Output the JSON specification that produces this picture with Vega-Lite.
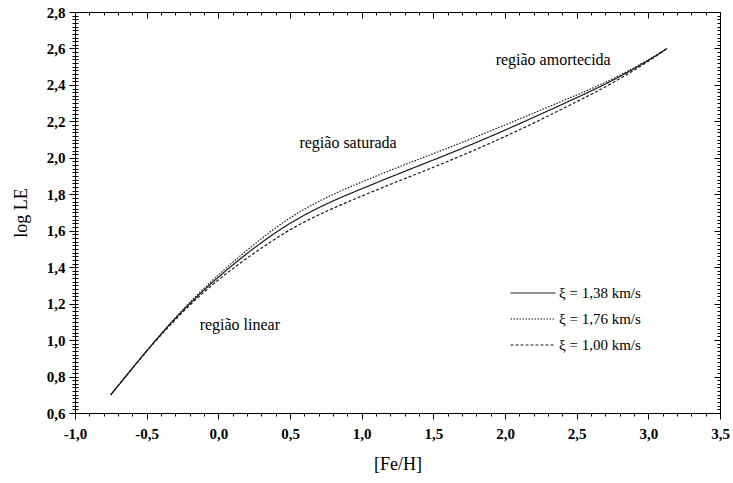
{
  "$schema": "https://vega.github.io/schema/vega-lite/v6.json",
  "width": 645,
  "height": 401,
  "autosize": {"type": "none"},
  "padding": {"left": 75, "top": 12, "right": 13, "bottom": 70},
  "config": {
    "font": "Liberation Serif",
    "view": {"stroke": "black", "strokeWidth": 1},
    "axis": {
      "grid": false,
      "domain": false,
      "tickColor": "black",
      "tickWidth": 1,
      "labelColor": "black",
      "titleColor": "black",
      "labelFont": "Liberation Serif",
      "titleFont": "Liberation Serif"
    }
  },
  "datasets": {
    "curves": [
      {"feh": -0.75, "logle": 0.70, "xi": "ξ = 1,38 km/s"},
      {"feh": -0.5, "logle": 0.94, "xi": "ξ = 1,38 km/s"},
      {"feh": -0.25, "logle": 1.16, "xi": "ξ = 1,38 km/s"},
      {"feh": 0.0, "logle": 1.345, "xi": "ξ = 1,38 km/s"},
      {"feh": 0.25, "logle": 1.505, "xi": "ξ = 1,38 km/s"},
      {"feh": 0.5, "logle": 1.64, "xi": "ξ = 1,38 km/s"},
      {"feh": 0.75, "logle": 1.745, "xi": "ξ = 1,38 km/s"},
      {"feh": 1.0, "logle": 1.83, "xi": "ξ = 1,38 km/s"},
      {"feh": 1.25, "logle": 1.91, "xi": "ξ = 1,38 km/s"},
      {"feh": 1.5, "logle": 1.988, "xi": "ξ = 1,38 km/s"},
      {"feh": 1.75, "logle": 2.068, "xi": "ξ = 1,38 km/s"},
      {"feh": 2.0, "logle": 2.152, "xi": "ξ = 1,38 km/s"},
      {"feh": 2.25, "logle": 2.24, "xi": "ξ = 1,38 km/s"},
      {"feh": 2.5, "logle": 2.33, "xi": "ξ = 1,38 km/s"},
      {"feh": 2.75, "logle": 2.425, "xi": "ξ = 1,38 km/s"},
      {"feh": 3.0, "logle": 2.535, "xi": "ξ = 1,38 km/s"},
      {"feh": 3.13, "logle": 2.6, "xi": "ξ = 1,38 km/s"},

      {"feh": -0.75, "logle": 0.70, "xi": "ξ = 1,76 km/s"},
      {"feh": -0.5, "logle": 0.941, "xi": "ξ = 1,76 km/s"},
      {"feh": -0.25, "logle": 1.165, "xi": "ξ = 1,76 km/s"},
      {"feh": 0.0, "logle": 1.357, "xi": "ξ = 1,76 km/s"},
      {"feh": 0.25, "logle": 1.525, "xi": "ξ = 1,76 km/s"},
      {"feh": 0.5, "logle": 1.67, "xi": "ξ = 1,76 km/s"},
      {"feh": 0.75, "logle": 1.78, "xi": "ξ = 1,76 km/s"},
      {"feh": 1.0, "logle": 1.867, "xi": "ξ = 1,76 km/s"},
      {"feh": 1.25, "logle": 1.947, "xi": "ξ = 1,76 km/s"},
      {"feh": 1.5, "logle": 2.023, "xi": "ξ = 1,76 km/s"},
      {"feh": 1.75, "logle": 2.1, "xi": "ξ = 1,76 km/s"},
      {"feh": 2.0, "logle": 2.18, "xi": "ξ = 1,76 km/s"},
      {"feh": 2.25, "logle": 2.262, "xi": "ξ = 1,76 km/s"},
      {"feh": 2.5, "logle": 2.345, "xi": "ξ = 1,76 km/s"},
      {"feh": 2.75, "logle": 2.433, "xi": "ξ = 1,76 km/s"},
      {"feh": 3.0, "logle": 2.538, "xi": "ξ = 1,76 km/s"},
      {"feh": 3.13, "logle": 2.6, "xi": "ξ = 1,76 km/s"},

      {"feh": -0.75, "logle": 0.70, "xi": "ξ = 1,00 km/s"},
      {"feh": -0.5, "logle": 0.938, "xi": "ξ = 1,00 km/s"},
      {"feh": -0.25, "logle": 1.152, "xi": "ξ = 1,00 km/s"},
      {"feh": 0.0, "logle": 1.33, "xi": "ξ = 1,00 km/s"},
      {"feh": 0.25, "logle": 1.477, "xi": "ξ = 1,00 km/s"},
      {"feh": 0.5, "logle": 1.605, "xi": "ξ = 1,00 km/s"},
      {"feh": 0.75, "logle": 1.705, "xi": "ξ = 1,00 km/s"},
      {"feh": 1.0, "logle": 1.79, "xi": "ξ = 1,00 km/s"},
      {"feh": 1.25, "logle": 1.87, "xi": "ξ = 1,00 km/s"},
      {"feh": 1.5, "logle": 1.948, "xi": "ξ = 1,00 km/s"},
      {"feh": 1.75, "logle": 2.03, "xi": "ξ = 1,00 km/s"},
      {"feh": 2.0, "logle": 2.117, "xi": "ξ = 1,00 km/s"},
      {"feh": 2.25, "logle": 2.21, "xi": "ξ = 1,00 km/s"},
      {"feh": 2.5, "logle": 2.308, "xi": "ξ = 1,00 km/s"},
      {"feh": 2.75, "logle": 2.411, "xi": "ξ = 1,00 km/s"},
      {"feh": 3.0, "logle": 2.53, "xi": "ξ = 1,00 km/s"},
      {"feh": 3.13, "logle": 2.6, "xi": "ξ = 1,00 km/s"}
    ],
    "regions": [
      {"feh": 0.15, "logle": 1.083, "label": "região linear"},
      {"feh": 0.905, "logle": 2.081, "label": "região saturada"},
      {"feh": 2.336, "logle": 2.536, "label": "região amortecida"}
    ]
  },
  "resolve": {
    "scale": {"x": "independent", "y": "independent"},
    "axis": {"x": "independent", "y": "independent"}
  },
  "layer": [
    {
      "data": {"name": "curves"},
      "mark": {"type": "line", "color": "#1a1a1a", "strokeWidth": 1.2, "interpolate": "natural"},
      "encoding": {
        "x": {
          "field": "feh", "type": "quantitative",
          "scale": {"domain": [-1, 3.5], "nice": false, "zero": false},
          "axis": {
            "orient": "bottom",
            "title": "[Fe/H]",
            "values": [-1, -0.5, 0, 0.5, 1, 1.5, 2, 2.5, 3, 3.5],
            "labelExpr": "replace(replace(format(datum.value, '.1f'), '.', ','), '−', '-')",
            "tickSize": 6,
            "labelPadding": 7,
            "labelFontSize": 15,
            "labelFontWeight": "bold",
            "labelFlush": false,
            "titleFontSize": 18,
            "titleFontWeight": "normal",
            "titlePadding": 14
          }
        },
        "y": {
          "field": "logle", "type": "quantitative",
          "scale": {"domain": [0.6, 2.8], "nice": false, "zero": false},
          "axis": {
            "orient": "left",
            "title": "log LE",
            "values": [0.6, 0.8, 1.0, 1.2, 1.4, 1.6, 1.8, 2.0, 2.2, 2.4, 2.6, 2.8],
            "labelExpr": "replace(format(datum.value, '.1f'), '.', ',')",
            "tickSize": 6,
            "labelPadding": 4,
            "labelFontSize": 15,
            "labelFontWeight": "bold",
            "labelFlush": false,
            "titleFontSize": 18,
            "titleFontWeight": "normal",
            "titlePadding": 16
          }
        },
        "strokeDash": {
          "field": "xi", "type": "nominal",
          "scale": {
            "domain": ["ξ = 1,38 km/s", "ξ = 1,76 km/s", "ξ = 1,00 km/s"],
            "range": [[1, 0], [1.5, 1.5], [3, 2]]
          },
          "legend": {
            "orient": "none",
            "legendX": 446,
            "legendY": 269,
            "title": null,
            "symbolType": "M-2,0H2",
            "symbolSize": 506,
            "symbolStrokeWidth": 1.2,
            "symbolStrokeColor": "#1a1a1a",
            "symbolFillColor": "transparent",
            "labelFont": "Liberation Serif",
            "labelFontSize": 15,
            "labelColor": "black",
            "labelOffset": 14,
            "rowPadding": 6
          }
        }
      }
    },
    {
      "data": {"name": "curves"},
      "mark": {"type": "point", "opacity": 0},
      "encoding": {
        "x": {
          "field": "feh", "type": "quantitative",
          "scale": {"domain": [-1, 3.5], "nice": false, "zero": false},
          "axis": {"orient": "bottom", "title": null, "labels": false, "tickCount": 45, "tickSize": 3}
        },
        "y": {
          "field": "logle", "type": "quantitative",
          "scale": {"domain": [0.6, 2.8], "nice": false, "zero": false},
          "axis": {"orient": "left", "title": null, "labels": false, "tickCount": 110, "tickSize": 3}
        }
      }
    },
    {
      "data": {"name": "curves"},
      "mark": {"type": "point", "opacity": 0},
      "encoding": {
        "x": {
          "field": "feh", "type": "quantitative",
          "scale": {"domain": [-1, 3.5], "nice": false, "zero": false},
          "axis": {"orient": "top", "title": null, "labels": false, "values": [-1, -0.5, 0, 0.5, 1, 1.5, 2, 2.5, 3, 3.5], "tickSize": -6}
        },
        "y": {
          "field": "logle", "type": "quantitative",
          "scale": {"domain": [0.6, 2.8], "nice": false, "zero": false},
          "axis": {"orient": "right", "title": null, "labels": false, "values": [0.6, 0.8, 1.0, 1.2, 1.4, 1.6, 1.8, 2.0, 2.2, 2.4, 2.6, 2.8], "tickSize": -6}
        }
      }
    },
    {
      "data": {"name": "curves"},
      "mark": {"type": "point", "opacity": 0},
      "encoding": {
        "x": {
          "field": "feh", "type": "quantitative",
          "scale": {"domain": [-1, 3.5], "nice": false, "zero": false},
          "axis": {"orient": "top", "title": null, "labels": false, "tickCount": 45, "tickSize": -3}
        },
        "y": {
          "field": "logle", "type": "quantitative",
          "scale": {"domain": [0.6, 2.8], "nice": false, "zero": false},
          "axis": {"orient": "right", "title": null, "labels": false, "tickCount": 110, "tickSize": -3}
        }
      }
    },
    {
      "data": {"name": "curves"},
      "mark": {"type": "point", "opacity": 0},
      "encoding": {
        "x": {
          "field": "feh", "type": "quantitative",
          "scale": {"domain": [-1, 3.5], "nice": false, "zero": false},
          "axis": null
        },
        "y": {
          "field": "logle", "type": "quantitative",
          "scale": {"domain": [0.6, 2.8], "nice": false, "zero": false},
          "axis": {"orient": "left", "title": null, "labels": false, "tickCount": 110, "tickSize": -3}
        }
      }
    },
    {
      "data": {"name": "regions"},
      "mark": {"type": "text", "font": "Liberation Serif", "fontSize": 16, "color": "black", "align": "center", "baseline": "middle"},
      "encoding": {
        "x": {
          "field": "feh", "type": "quantitative",
          "scale": {"domain": [-1, 3.5], "nice": false, "zero": false},
          "axis": null
        },
        "y": {
          "field": "logle", "type": "quantitative",
          "scale": {"domain": [0.6, 2.8], "nice": false, "zero": false},
          "axis": null
        },
        "text": {"field": "label"}
      }
    }
  ]
}
